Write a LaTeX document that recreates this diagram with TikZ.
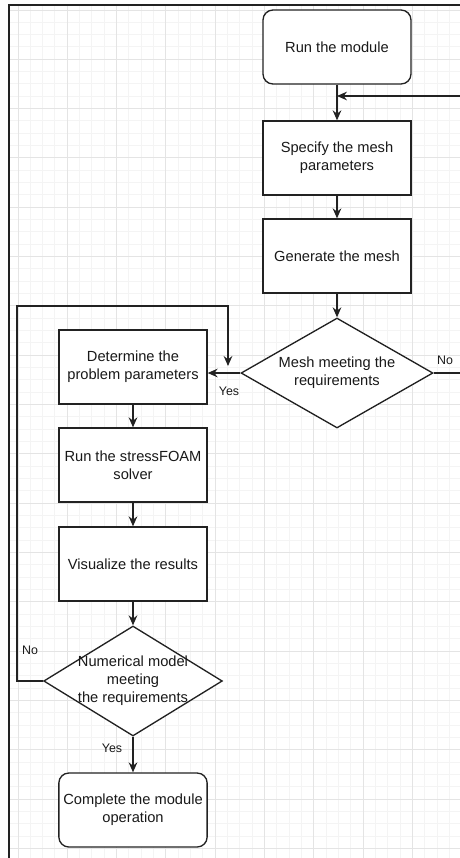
\documentclass[tikz,border=0pt]{standalone}
\usepackage{fontspec}
\setmainfont{Liberation Sans}
\usetikzlibrary{shapes.geometric,arrows.meta}

\definecolor{gridminor}{HTML}{F4F4F4}
\definecolor{gridmajor}{HTML}{E4E4E4}
\definecolor{linecol}{HTML}{222222}

\tikzset{
  terminal/.style={draw=linecol, rounded corners=7.5pt, minimum width=111pt, minimum height=55.5pt, fill=white, align=center},
  process/.style={draw=linecol, minimum width=111pt, minimum height=55.5pt, fill=white, align=center},
  decision/.style={draw=linecol, diamond, inner sep=0pt, minimum height=82.5pt, fill=white},
  flow/.style={->, draw=linecol},
  tag/.style={font=\fontsize{9.3}{11}\selectfont}
}

\begin{document}
\begin{tikzpicture}[x=0.75pt,y=-0.75pt,line width=1pt,
  every node/.style={font=\fontsize{11}{13.5}\selectfont, text=black!90},
  >={Stealth[length=7.5pt,width=6.5pt,inset=2.5pt]}]
\useasboundingbox (0,0) rectangle (460,858);

% background grid
\foreach \i in {0,...,35} \draw[gridminor, line width=0.75pt] ({18+12.33*\i},5) -- ({18+12.33*\i},858);
\foreach \i in {0,...,68} \draw[gridminor, line width=0.75pt] (9,{10+12.33*\i}) -- (460,{10+12.33*\i});
\foreach \i in {0,...,8} \draw[gridmajor, line width=0.75pt] ({18+49.32*\i},5) -- ({18+49.32*\i},858);
\foreach \i in {0,...,17} \draw[gridmajor, line width=0.75pt] (9,{10+49.32*\i}) -- (460,{10+49.32*\i});
\draw[linecol, line width=1.5pt] (9,858) -- (9,5) -- (460,5);

% mesh part
\node[terminal] (run) at (337,47) {Run the module};
\node[process] (spec) at (337,158) {Specify the mesh\\parameters};
\node[process] (gen) at (337,256) {Generate the mesh};
\node[decision, minimum width=144pt,
  label={[align=center]center:Mesh meeting the\\requirements}] (chk1) at (337,373) {};

% solver part
\node[process] (det) at (133,367) {Determine the\\problem parameters};
\node[process] (solve) at (133,465) {Run the stressFOAM\\solver};
\node[process] (vis) at (133,564) {Visualize the results};
\node[decision, minimum width=134pt,
  label={[align=center]center:Numerical model\\meeting\\the requirements}] (chk2) at (133,681) {};
\node[terminal] (done) at (133,810) {Complete the module\\operation};

\coordinate (join) at (337,96);
\coordinate (corner) at (17,306);
\coordinate (back) at (228,366);

\draw[flow] (run) -- (spec);
\draw[flow] (spec) -- (gen);
\draw[flow] (gen) -- (chk1);
\draw[flow] (chk1.east) -- ++(45,0) |- (join);
\draw[flow] (chk1.west) -- (chk1.west -| det.east);
\draw[flow] (det) -- (solve);
\draw[flow] (solve) -- (vis);
\draw[flow] (vis) -- (chk2);
\draw[flow] (chk2) -- (done);
\draw[flow] (chk2.west) -| (corner) -| (back);

\node[tag] (no1) at (445,360) {No};
\node[tag] (yes1) at (229,391) {Yes};
\node[tag] (no2) at (30,650) {No};
\node[tag] (yes2) at (112,748) {Yes};
\end{tikzpicture}
\end{document}
